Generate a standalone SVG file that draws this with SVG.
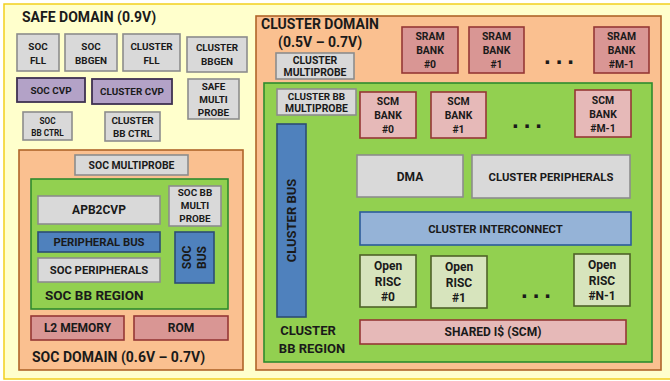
<svg xmlns="http://www.w3.org/2000/svg" width="670" height="381" viewBox="0 0 670 381">
  <style>
    text { font-family: Roboto, "Liberation Sans", Arial, sans-serif; font-weight: bold; fill: #1a1a1a; text-anchor: middle; }
    .s9 { font-size: 9.9px; }
    .s95 { font-size: 10.4px; }
    .s10 { font-size: 11.3px; }
    .s11 { font-size: 12px; }
    .s12 { font-size: 13px; }
    .title { font-size: 14px; text-anchor: start; }
    .grey { fill: #D9D9D9; stroke: #8C8C8C; stroke-width: 1.6; }
    .cvp { fill: #B3A2C7; stroke: #3F3151; stroke-width: 1.8; }
    .blue { fill: #4F81BD; stroke: #2C4D75; stroke-width: 1.6; }
    .lblue { fill: #95B3D7; stroke: #2C5C9A; stroke-width: 1.6; }
    .mem { fill: #D99694; stroke: #953735; stroke-width: 1.6; }
    .scm { fill: #E6B9B8; stroke: #953735; stroke-width: 1.6; }
    .core { fill: #D7E4BD; stroke: #4F6228; stroke-width: 1.6; }
    .domain { fill: #FAC090; stroke: #B0652A; stroke-width: 1.6; }
    .region { fill: #92D050; stroke: #2E8B2E; stroke-width: 1.6; }
    .dots { font-family: "Liberation Sans", Arial, sans-serif; font-size: 24px; text-anchor: start; letter-spacing: 5px; }
  </style>

  <!-- outer safe domain frame -->
  <rect x="4" y="4" width="700" height="375" fill="#FFFFCC" stroke="#F2CF1E" stroke-width="1.5"/>
  <text class="title" x="22" y="22">SAFE DOMAIN (0.9V)</text>

  <!-- safe domain blocks -->
  <g id="soc-fll"><rect class="grey" x="17" y="34" width="42" height="37"/><text class="s9" x="38" y="50">SOC</text><text class="s9" x="38" y="64">FLL</text></g>
  <g id="soc-bbgen"><rect class="grey" x="65" y="34" width="52" height="37"/><text class="s9" x="91" y="50">SOC</text><text class="s9" x="91" y="64">BBGEN</text></g>
  <g id="cluster-fll"><rect class="grey" x="123" y="34" width="57" height="37"/><text class="s9" x="151.5" y="50">CLUSTER</text><text class="s9" x="151.5" y="64">FLL</text></g>
  <g id="cluster-bbgen"><rect class="grey" x="187" y="37" width="60" height="35"/><text class="s9" x="217" y="51">CLUSTER</text><text class="s9" x="217" y="65">BBGEN</text></g>
  <g id="soc-cvp"><rect class="cvp" x="17" y="78" width="68" height="24"/><text class="s9" x="51" y="94">SOC CVP</text></g>
  <g id="cluster-cvp"><rect class="cvp" x="92" y="79" width="80" height="25"/><text class="s9" x="132" y="95">CLUSTER CVP</text></g>
  <g id="safe-multiprobe"><rect class="grey" x="188" y="79" width="51" height="40"/><text class="s9" x="213.5" y="90">SAFE</text><text class="s9" x="213.5" y="103">MULTI</text><text class="s9" x="213.5" y="116">PROBE</text></g>
  <g id="soc-bb-ctrl"><rect class="grey" x="23" y="112" width="49" height="28"/><text x="47.5" y="124" style="font-size:8.2px">SOC</text><text x="47.5" y="136" style="font-size:8.2px">BB CTRL</text></g>
  <g id="cluster-bb-ctrl"><rect class="grey" x="105" y="112" width="55" height="29"/><text class="s9" x="132.5" y="124">CLUSTER</text><text class="s9" x="132.5" y="137">BB CTRL</text></g>

  <!-- SoC domain -->
  <g id="soc-domain">
    <rect class="domain" x="19" y="150" width="224" height="220"/>
    <text class="title" x="32" y="362">SOC DOMAIN (0.6V – 0.7V)</text>
  </g>
  <g id="soc-multiprobe"><rect class="grey" x="75" y="155" width="113" height="20"/><text class="s95" x="131.5" y="168.5">SOC MULTIPROBE</text></g>
  <g id="soc-bb-region">
    <rect class="region" x="31" y="179" width="197" height="130"/>
    <text class="title" x="45" y="300" style="font-size:13.5px">SOC BB REGION</text>
  </g>
  <g id="apb2cvp"><rect class="grey" x="38" y="196" width="122" height="28"/><text class="s11" x="99" y="214">APB2CVP</text></g>
  <g id="soc-bb-multiprobe"><rect class="grey" x="169" y="186" width="52" height="40"/><text class="s9" x="195" y="196">SOC BB</text><text class="s9" x="195" y="209">MULTI</text><text class="s9" x="195" y="222">PROBE</text></g>
  <g id="peripheral-bus"><rect class="blue" x="38" y="232" width="122" height="20"/><text class="s10" x="99" y="246">PERIPHERAL BUS</text></g>
  <g id="soc-peripherals"><rect class="grey" x="38" y="258" width="122" height="24"/><text class="s10" x="99" y="274">SOC PERIPHERALS</text></g>
  <g id="soc-bus">
    <rect class="blue" x="175" y="232" width="39" height="51"/>
    <text class="s11" transform="translate(190.5 257.5) rotate(-90)">SOC</text>
    <text class="s11" transform="translate(205.5 257.5) rotate(-90)">BUS</text>
  </g>
  <g id="l2-memory"><rect class="mem" x="31" y="316" width="93" height="24"/><text class="s11" x="77.5" y="332">L2 MEMORY</text></g>
  <g id="rom"><rect class="mem" x="134" y="316" width="94" height="24"/><text class="s11" x="181" y="332">ROM</text></g>

  <!-- Cluster domain -->
  <g id="cluster-domain">
    <rect class="domain" x="256" y="16" width="405" height="354"/>
    <text class="title" x="261" y="29">CLUSTER DOMAIN</text>
    <text class="title" x="278" y="47">(0.5V – 0.7V)</text>
  </g>
  <g id="cluster-multiprobe"><rect class="grey" x="276" y="53" width="78" height="26"/><text class="s95" x="315" y="64">CLUSTER</text><text class="s95" x="315" y="76">MULTIPROBE</text></g>
  <g id="sram-0"><rect class="mem" x="402" y="27" width="56" height="46"/><text class="s95" x="430" y="40">SRAM</text><text class="s95" x="430" y="54">BANK</text><text class="s95" x="430" y="68">#0</text></g>
  <g id="sram-1"><rect class="mem" x="469" y="27" width="55" height="46"/><text class="s95" x="496.5" y="40">SRAM</text><text class="s95" x="496.5" y="54">BANK</text><text class="s95" x="496.5" y="68">#1</text></g>
  <text class="dots" x="544" y="64">...</text>
  <g id="sram-m1"><rect class="mem" x="594" y="27" width="55" height="46"/><text class="s95" x="621.5" y="40">SRAM</text><text class="s95" x="621.5" y="54">BANK</text><text class="s95" x="621.5" y="68">#M-1</text></g>

  <g id="cluster-bb-region">
    <rect class="region" x="264" y="83" width="388" height="279"/>
    <text x="308" y="335" style="font-size:13px">CLUSTER</text>
    <text x="312" y="353" style="font-size:13px">BB REGION</text>
  </g>
  <g id="cluster-bb-multiprobe"><rect class="grey" x="277" y="89" width="79" height="26"/><text class="s9" x="316.5" y="99.5">CLUSTER BB</text><text class="s95" x="316.5" y="112">MULTIPROBE</text></g>
  <g id="scm-0"><rect class="scm" x="360" y="92" width="56" height="46"/><text class="s95" x="388" y="105">SCM</text><text class="s95" x="388" y="119">BANK</text><text class="s95" x="388" y="133">#0</text></g>
  <g id="scm-1"><rect class="scm" x="431" y="92" width="55" height="46"/><text class="s95" x="458.5" y="105">SCM</text><text class="s95" x="458.5" y="119">BANK</text><text class="s95" x="458.5" y="133">#1</text></g>
  <text class="dots" x="512" y="128">...</text>
  <g id="scm-m1"><rect class="scm" x="575" y="90" width="56" height="47"/><text class="s95" x="603" y="104">SCM</text><text class="s95" x="603" y="118">BANK</text><text class="s95" x="603" y="132">#M-1</text></g>
  <g id="cluster-bus">
    <rect class="blue" x="277" y="124" width="29" height="193"/>
    <text class="s12" transform="translate(296 220.5) rotate(-90)">CLUSTER BUS</text>
  </g>
  <g id="dma"><rect class="grey" x="357" y="155" width="106" height="42"/><text class="s11" x="410" y="180.5">DMA</text></g>
  <g id="cluster-peripherals"><rect class="grey" x="472" y="155" width="158" height="43"/><text class="s10" x="551" y="180.5">CLUSTER PERIPHERALS</text></g>
  <g id="cluster-interconnect"><rect class="lblue" x="360" y="212" width="271" height="33"/><text class="s10" x="495.5" y="232.5">CLUSTER INTERCONNECT</text></g>
  <g id="risc-0"><rect class="core" x="360" y="255" width="56" height="52"/><text class="s11" x="388" y="270">Open</text><text class="s11" x="388" y="285.5">RISC</text><text class="s11" x="388" y="301">#0</text></g>
  <g id="risc-1"><rect class="core" x="431" y="256" width="56" height="52"/><text class="s11" x="459" y="271">Open</text><text class="s11" x="459" y="286.5">RISC</text><text class="s11" x="459" y="302">#1</text></g>
  <text class="dots" x="521" y="298">...</text>
  <g id="risc-n1"><rect class="core" x="574" y="254" width="56" height="52"/><text class="s11" x="602" y="269">Open</text><text class="s11" x="602" y="284.5">RISC</text><text class="s11" x="602" y="300">#N-1</text></g>
  <g id="shared-icache"><rect class="scm" x="360" y="320" width="266" height="24"/><text class="s11" x="493" y="336">SHARED I$ (SCM)</text></g>

  <!-- this block diagram has no connectors -->
  <g id="connectors"/>
</svg>
